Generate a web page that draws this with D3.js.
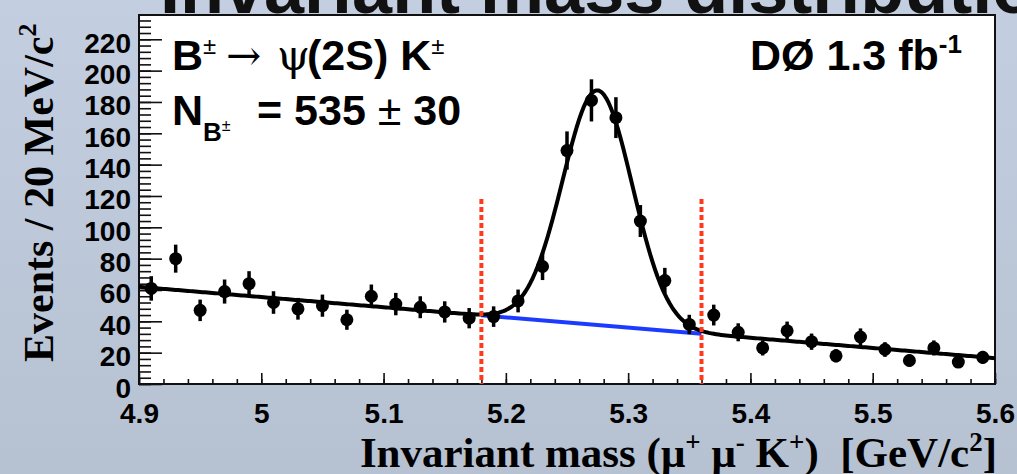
<!DOCTYPE html>
<html>
<head>
<meta charset="utf-8">
<script src="https://cdn.jsdelivr.net/npm/d3@7"></script>
<style>
  html, body { margin: 0; padding: 0; overflow: hidden; }
  body { width: 1017px; height: 474px; }
  svg { display: block; }
</style>
</head>
<body>
<svg id="chart" width="1017" height="474"></svg>
<script>
// B± → ψ(2S) K± candidates, 20 MeV/c² bins
const binCenters = [4.91, 4.93, 4.95, 4.97, 4.99, 5.01, 5.03, 5.05, 5.07, 5.09,
                    5.11, 5.13, 5.15, 5.17, 5.19, 5.21, 5.23, 5.25, 5.27, 5.29,
                    5.31, 5.33, 5.35, 5.37, 5.39, 5.41, 5.43, 5.45, 5.47, 5.49,
                    5.51, 5.53, 5.55, 5.57, 5.59];
const events = [61, 80, 47, 59, 64, 52, 48, 50, 41, 56,
                51, 49, 46, 42, 43, 53, 75, 149, 181, 170,
                104, 66, 38, 44, 33, 23, 34, 27, 18, 30,
                22, 15, 23, 14, 17];

// Fit: Gaussian signal on a linear background
const signalYield = 535;
const signalError = 30;
const peakMean = 5.275;
const peakSigma = 0.0285;
const binWidth = 0.02;
const bkgAt490 = 62;
const bkgSlope = -65;

// Signal window used for the background-only line
const signalWindow = [5.18, 5.36];

const xTickValues = [4.9, 5.0, 5.1, 5.2, 5.3, 5.4, 5.5, 5.6];
const xTickLabels = ["4.9", "5", "5.1", "5.2", "5.3", "5.4", "5.5", "5.6"];
const yTickValues = [0, 20, 40, 60, 80, 100, 120, 140, 160, 180, 200, 220];

const svg = d3.select("#chart");
const W = 1017, H = 474;
const plot = { left: 139, right: 995, top: 15, bottom: 384 };

// Slide background
const defs = svg.append("defs");
const grad = defs.append("linearGradient").attr("id", "bg").attr("x1", 0).attr("y1", 0).attr("x2", 0).attr("y2", 1);
grad.append("stop").attr("offset", "0%").attr("stop-color", "#c3cee0");
grad.append("stop").attr("offset", "100%").attr("stop-color", "#b6c1d2");
svg.append("rect").attr("width", W).attr("height", H).attr("fill", "url(#bg)");

// Slide heading (mostly above the visible area)
svg.append("text")
  .attr("x", 160).attr("y", 13)
  .attr("font-family", "Liberation Sans, Arial, sans-serif")
  .attr("font-weight", "bold").attr("font-size", 72)
  .attr("fill", "#111")
  .text("Invariant mass distribution");

const x = d3.scaleLinear().domain([4.9, 5.6]).range([plot.left, plot.right]);
const y = d3.scaleLinear().domain([0, 235.5]).range([plot.bottom, plot.top]);

// Plot frame
svg.append("rect")
  .attr("x", plot.left).attr("y", plot.top)
  .attr("width", plot.right - plot.left).attr("height", plot.bottom - plot.top)
  .attr("fill", "#fff").attr("stroke", "#111").attr("stroke-width", 2);

// Axes
const labelFont = "Liberation Sans, Arial, sans-serif";
const minorX = d3.range(0, 36).map(i => 4.9 + i * 0.02);
const minorY = d3.range(0, 59).map(i => i * 4);

const gxMinor = svg.append("g").attr("transform", `translate(0,${plot.bottom})`)
  .call(d3.axisBottom(x).tickValues(minorX).tickSize(-5).tickFormat(""));
const gx = svg.append("g").attr("transform", `translate(0,${plot.bottom})`)
  .call(d3.axisBottom(x).tickValues(xTickValues).tickSize(-11)
    .tickFormat((d, i) => xTickLabels[i]));
const gyMinor = svg.append("g").attr("transform", `translate(${plot.left},0)`)
  .call(d3.axisLeft(y).tickValues(minorY.filter(v => v <= 235)).tickSize(-12).tickFormat(""));
const gy = svg.append("g").attr("transform", `translate(${plot.left},0)`)
  .call(d3.axisLeft(y).tickValues(yTickValues).tickSize(-23));

[gxMinor, gx, gyMinor, gy].forEach(g => {
  g.select(".domain").remove();
  g.selectAll(".tick line").attr("stroke", "#111").attr("stroke-width", 1.6);
});
gx.selectAll(".tick text")
  .attr("y", 39).attr("dy", 0)
  .attr("font-family", labelFont).attr("font-weight", "bold").attr("font-size", 28)
  .attr("fill", "#000");
gy.selectAll(".tick text")
  .attr("x", -8).attr("dy", 13)
  .attr("font-family", labelFont).attr("font-weight", "bold").attr("font-size", 28)
  .attr("fill", "#000");

// Axis titles
const titleFont = "Liberation Serif, Times New Roman, serif";
const yTitle = svg.append("text")
  .attr("transform", "translate(53,362) rotate(-90)")
  .attr("font-family", titleFont).attr("font-weight", "bold").attr("font-size", 42)
  .attr("fill", "#000");
yTitle.append("tspan").text("Events / 20 MeV/c");
yTitle.append("tspan").attr("font-size", 26).attr("dy", -17).text("2");

const xTitle = svg.append("text")
  .attr("x", 997).attr("y", 467).attr("text-anchor", "end")
  .attr("font-family", titleFont).attr("font-weight", "bold").attr("font-size", 43)
  .attr("fill", "#000");
xTitle.append("tspan").text("Invariant mass (\u03bc");
xTitle.append("tspan").attr("font-size", 27).attr("dy", -16).text("+");
xTitle.append("tspan").attr("dy", 16).text(" \u03bc");
xTitle.append("tspan").attr("font-size", 27).attr("dy", -16).text("-");
xTitle.append("tspan").attr("dy", 16).text(" K");
xTitle.append("tspan").attr("font-size", 27).attr("dy", -16).text("+");
xTitle.append("tspan").attr("dy", 16).text(")\u00a0\u00a0[GeV/c");
xTitle.append("tspan").attr("font-size", 27).attr("dy", -16).text("2");
xTitle.append("tspan").attr("dy", 16).text("]");

// Fit model
const peakAmp = signalYield * binWidth / (peakSigma * Math.sqrt(2 * Math.PI));
const background = m => bkgAt490 + bkgSlope * (m - 4.9);
const signal = m => peakAmp * Math.exp(-0.5 * Math.pow((m - peakMean) / peakSigma, 2));
const total = m => background(m) + signal(m);

const plotArea = svg.append("g");
const massGrid = d3.range(0, 351).map(i => 4.9 + i * 0.002);
const line = d3.line().x(d => x(d[0])).y(d => y(d[1]));

// Background under the peak
plotArea.append("path")
  .datum(signalWindow.map(m => [m, background(m)]))
  .attr("d", line).attr("fill", "none")
  .attr("stroke", "#1b3cff").attr("stroke-width", 4);

// Full fit
plotArea.append("path")
  .datum(massGrid.map(m => [m, total(m)]))
  .attr("d", line).attr("fill", "none")
  .attr("stroke", "#000").attr("stroke-width", 4).attr("stroke-linejoin", "round");

// Signal-window boundaries
plotArea.selectAll("line.window")
  .data(signalWindow).enter().append("line")
  .attr("class", "window")
  .attr("x1", d => x(d)).attr("x2", d => x(d))
  .attr("y1", y(118)).attr("y2", plot.bottom)
  .attr("stroke", "#ff3a1c").attr("stroke-width", 4)
  .attr("stroke-dasharray", "5,3");

// Data with Poisson errors
const data = binCenters.map((m, i) => ({ m, n: events[i] }));
plotArea.selectAll("line.err").data(data).enter().append("line")
  .attr("class", "err")
  .attr("x1", d => x(d.m)).attr("x2", d => x(d.m))
  .attr("y1", d => y(d.n - Math.sqrt(d.n))).attr("y2", d => y(d.n + Math.sqrt(d.n)))
  .attr("stroke", "#000").attr("stroke-width", 3.5);
plotArea.selectAll("circle.pt").data(data).enter().append("circle")
  .attr("class", "pt")
  .attr("cx", d => x(d.m)).attr("cy", d => y(d.n)).attr("r", 6.5)
  .attr("fill", "#000");

// Labels inside the frame
const inFont = "Liberation Sans, Arial, sans-serif";
const symFont = "DejaVu Serif, Liberation Serif, serif";
const l1 = svg.append("text").attr("x", 172).attr("y", 70)
  .attr("font-family", inFont).attr("font-weight", "bold").attr("font-size", 43).attr("fill", "#000");
l1.append("tspan").text("B");
l1.append("tspan").attr("font-size", 24).attr("dy", -16).attr("font-weight", "normal").text("\u00b1");
l1.append("tspan").attr("x", 226).attr("dy", 16).attr("font-family", symFont).attr("font-weight", "normal").attr("font-size", 42).text("\u2192");
l1.append("tspan").attr("x", 277).attr("font-family", symFont).attr("font-weight", "normal").attr("font-size", 42).text("\u03c8");
l1.append("tspan").attr("x", 307).text("(2S)\u00a0K");
l1.append("tspan").attr("font-size", 24).attr("dy", -16).attr("font-weight", "normal").text("\u00b1");

const l2 = svg.append("text").attr("x", 172).attr("y", 125)
  .attr("font-family", inFont).attr("font-weight", "bold").attr("font-size", 43).attr("fill", "#000");
l2.append("tspan").text("N");
l2.append("tspan").attr("font-size", 26).attr("dy", 16).text("B");
l2.append("tspan").attr("font-size", 16).attr("dy", -10).attr("font-weight", "normal").text("\u00b1");
l2.append("tspan").attr("x", 257).attr("dy", -6)
  .text(`= ${signalYield} `);
l2.append("tspan").attr("font-weight", "normal").text("\u00b1");
l2.append("tspan").text(` ${signalError}`);

const l3 = svg.append("text").attr("x", 750).attr("y", 70)
  .attr("font-family", inFont).attr("font-weight", "bold").attr("font-size", 43).attr("fill", "#000");
l3.append("tspan").text("D\u00d8 1.3 fb");
l3.append("tspan").attr("font-size", 26).attr("dy", -17).text("-1");
</script>
</body>
</html>
